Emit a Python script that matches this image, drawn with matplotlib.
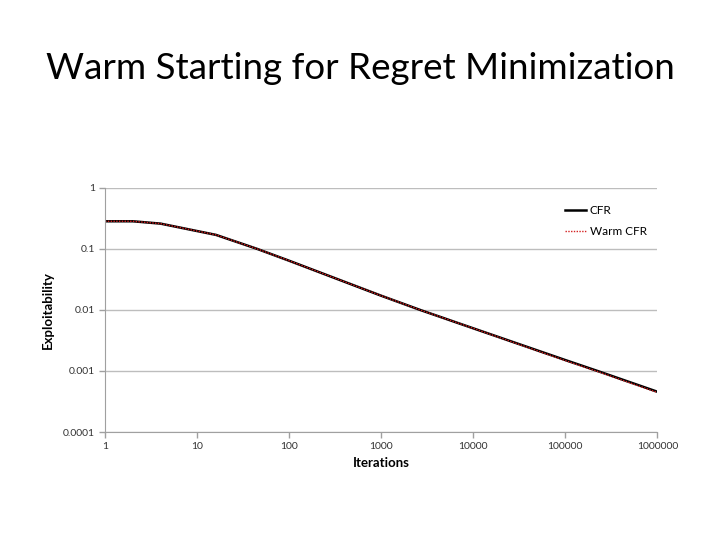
import matplotlib
matplotlib.use("Agg")
import matplotlib.pyplot as plt
from matplotlib.ticker import FixedLocator, FixedFormatter, NullLocator

plt.rcParams["font.family"] = ["Lato", "DejaVu Sans"]

# readings (log-log)
iterations = [1, 2, 4, 16, 45, 100, 1000, 2650, 10000, 100000, 224000, 1000000]
cfr = [0.284, 0.284, 0.26, 0.17, 0.100, 0.064, 0.0171, 0.010, 0.0050, 0.00151, 0.0010, 0.000457]
warm_cfr = [0.284, 0.284, 0.26, 0.17, 0.100, 0.064, 0.0171, 0.010, 0.0050, 0.00148, 0.00098, 0.000445]

xticks = [1, 10, 100, 1000, 10000, 100000, 1000000]
xlabels = ["1", "10", "100", "1000", "10000", "100000", "1000000"]
yticks = [0.0001, 0.001, 0.01, 0.1, 1]
ylabels = ["0.0001", "0.001", "0.01", "0.1", "1"]

fig = plt.figure(figsize=(7.2, 5.4), dpi=100)
fig.text(0.5, 0.874, "Warm Starting for Regret Minimization", ha="center", va="center",
         fontsize=26.5)

ax = fig.add_axes([0.146, 0.2, 0.767, 0.452])
ax.set_xscale("log")
ax.set_yscale("log")
ax.set_xlim(1, 1000000)
ax.set_ylim(0.0001, 1)

ax.plot(iterations, cfr, color="black", lw=1.8, label="CFR")
ax.plot(iterations, warm_cfr, color="#d42020", lw=1.0, ls=(0, (1, 1)), label="Warm CFR")

ax.xaxis.set_major_locator(FixedLocator(xticks))
ax.xaxis.set_major_formatter(FixedFormatter(xlabels))
ax.xaxis.set_minor_locator(NullLocator())
ax.yaxis.set_major_locator(FixedLocator(yticks))
ax.yaxis.set_major_formatter(FixedFormatter(ylabels))
ax.yaxis.set_minor_locator(NullLocator())

ax.grid(True, axis="y", color="#bdbdbd", lw=1)
ax.set_axisbelow(True)
for s in ["top", "right"]:
    ax.spines[s].set_visible(False)
for s in ["left", "bottom"]:
    ax.spines[s].set_color("#a0a0a0")
ax.tick_params(colors="#a0a0a0", labelcolor="#333333", labelsize=7.5, length=4, width=1)

ax.set_xlabel("Iterations", fontsize=9.5, fontweight="bold", labelpad=4)
ax.set_ylabel("Exploitability", fontsize=9.5, fontweight="bold", labelpad=6)

ax.legend(loc="upper right", frameon=False, fontsize=8.5, handlelength=1.8,
          handletextpad=0.3, labelspacing=0.9, bbox_to_anchor=(1.0, 0.975))

fig.savefig("out.png", dpi=100)
